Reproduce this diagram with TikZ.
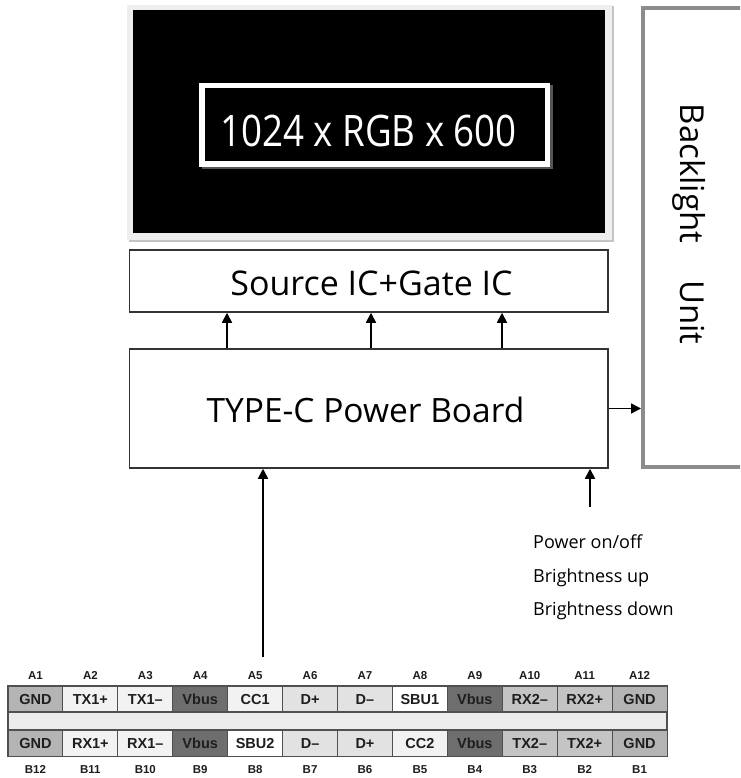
\documentclass[tikz,border=0pt]{standalone}
\usepackage{fontspec}
\setmainfont{Open Sans}
\newfontfamily\tblfont{Liberation Sans}
\usetikzlibrary{arrows.meta,shadows}
\definecolor{boxline}{HTML}{333333}
\definecolor{framegray}{HTML}{EEEEEE}
\definecolor{framesh}{HTML}{C4C4C4}
\definecolor{resshadow}{HTML}{555555}
\definecolor{blgray}{HTML}{8C8C8C}
\definecolor{cg}{HTML}{B4B4B4}
\definecolor{cl}{HTML}{F2F2F2}
\definecolor{cv}{HTML}{6E6E6E}
\definecolor{cd}{HTML}{E2E2E2}
\definecolor{cr}{HTML}{C4C4C4}
\definecolor{cw}{HTML}{FFFFFF}
\definecolor{cm}{HTML}{ECECEC}
\definecolor{cellline}{HTML}{505050}
\definecolor{celltext}{HTML}{1E1E1E}
\begin{document}
\begin{tikzpicture}[x=1pt,y=-1pt,
  box/.style={draw=boxline, line width=1.5pt, fill=white, inner sep=0pt},
  lbl/.style={inner sep=0pt, anchor=base},
  arr/.style={line width=1.6pt, -{Triangle[length=10pt,width=10pt]}},
  cell/.style={draw=cellline, line width=1.1pt, minimum width=54.92pt, minimum height=26pt,
    inner sep=0pt, text height=10.5pt, text depth=0pt, text=celltext,
    font=\tblfont\bfseries\fontsize{14.5}{14.5}\selectfont},
  pin/.style={inner sep=0pt, anchor=base, text=celltext,
    font=\tblfont\bfseries\fontsize{11.5}{11.5}\selectfont}
]
\clip (0,0) rectangle (740,778);
\fill[white] (0,0) rectangle (740,778);

% display panel
\node[fill=framegray, minimum width=485pt, minimum height=235pt, inner sep=0pt,
  general shadow={fill=framesh, shadow xshift=1.5pt, shadow yshift=-1.5pt}] (frame) at (369.5,122.5) {};
\node[fill=black, minimum width=472pt, minimum height=223pt, inner sep=0pt] (scr) at (369,121.5) {};
\node[draw=white, line width=5.5pt, fill=black, minimum width=345.5pt, minimum height=78.5pt, inner sep=0pt,
  general shadow={draw=resshadow, line width=5.5pt, shadow xshift=2.5pt, shadow yshift=-2.5pt}] (res) at (374.5,125) {};
\node[lbl, text=white] (rest) at (368.5,147) {\fontsize{43.4}{44}\selectfont\scalebox{0.846}[1]{1024 x RGB x 600}};

% source / gate IC
\node[box, minimum width=478.5pt, minimum height=62pt] (src) at (368.75,281) {};
\node[lbl] (srct) at (371.5,295) {\fontsize{34}{36}\selectfont Source IC+Gate IC};

% power board
\node[box, minimum width=478.5pt, minimum height=119pt] (pb) at (368.75,408.5) {};
\node[lbl] (pbt) at (365.5,422) {\fontsize{33.5}{36}\selectfont TYPE-C Power Board};

% backlight unit
\node[draw=blgray, line width=4pt, minimum width=101pt, minimum height=458.5pt, inner sep=0pt] (blu) at (693.5,237.75) {};
\node[lbl, rotate=-90] (blut) at (680,224) {\fontsize{33}{36}\selectfont Backlight\hspace{37pt}Unit};

% connectors
\draw[arr] ([xshift=-141.75pt]pb.north) -- ([xshift=-141.75pt]src.south);
\draw[arr] ([xshift=2.25pt]pb.north) -- ([xshift=2.25pt]src.south);
\draw[arr] ([xshift=133.25pt]pb.north) -- ([xshift=133.25pt]src.south);
\draw[arr] (pb.east) -- (pb.east -| blu.west);
\coordinate (usb) at (263,657);
\coordinate (btn) at (590,507);
\draw[arr] (usb) -- (usb |- pb.south);
\draw[arr] (btn) -- (btn |- pb.south);

% control text
\node[inner sep=0pt, anchor=base west] (ctl1) at (533,548) {\fontsize{18}{20}\selectfont Power on/off};
\node[inner sep=0pt, anchor=base west] (ctl2) at (533,582) {\fontsize{18}{20}\selectfont Brightness up};
\node[inner sep=0pt, anchor=base west] (ctl3) at (533,615) {\fontsize{18}{20}\selectfont Brightness down};

% Type-C pin table
\node[draw=cellline, line width=1.1pt, fill=cm, minimum width=659pt, minimum height=18pt, inner sep=0pt] (mid) at (337.5,721) {};
\foreach \i/\t/\c [count=\k] in {1/GND/cg, 2/TX1+/cl, 3/TX1–/cl, 4/Vbus/cv, 5/CC1/cl, 6/D+/cd,
    7/D–/cd, 8/SBU1/cw, 9/Vbus/cv, 10/RX2–/cr, 11/RX2+/cr, 12/GND/cg} {
  \node[cell, fill=\c] (a\i) at ({8+(\k-0.5)*54.92},699) {\t};
  \node[pin] (la\i) at ({8+(\k-0.5)*54.92},679) {A\i};
}
\foreach \i/\t/\c [count=\k] in {12/GND/cg, 11/RX1+/cl, 10/RX1–/cl, 9/Vbus/cv, 8/SBU2/cw, 7/D–/cd,
    6/D+/cd, 5/CC2/cl, 4/Vbus/cv, 3/TX2–/cr, 2/TX2+/cr, 1/GND/cg} {
  \node[cell, fill=\c] (b\i) at ({8+(\k-0.5)*54.92},743.5) {\t};
  \node[pin] (lb\i) at ({8+(\k-0.5)*54.92},773) {B\i};
}
\end{tikzpicture}
\end{document}
